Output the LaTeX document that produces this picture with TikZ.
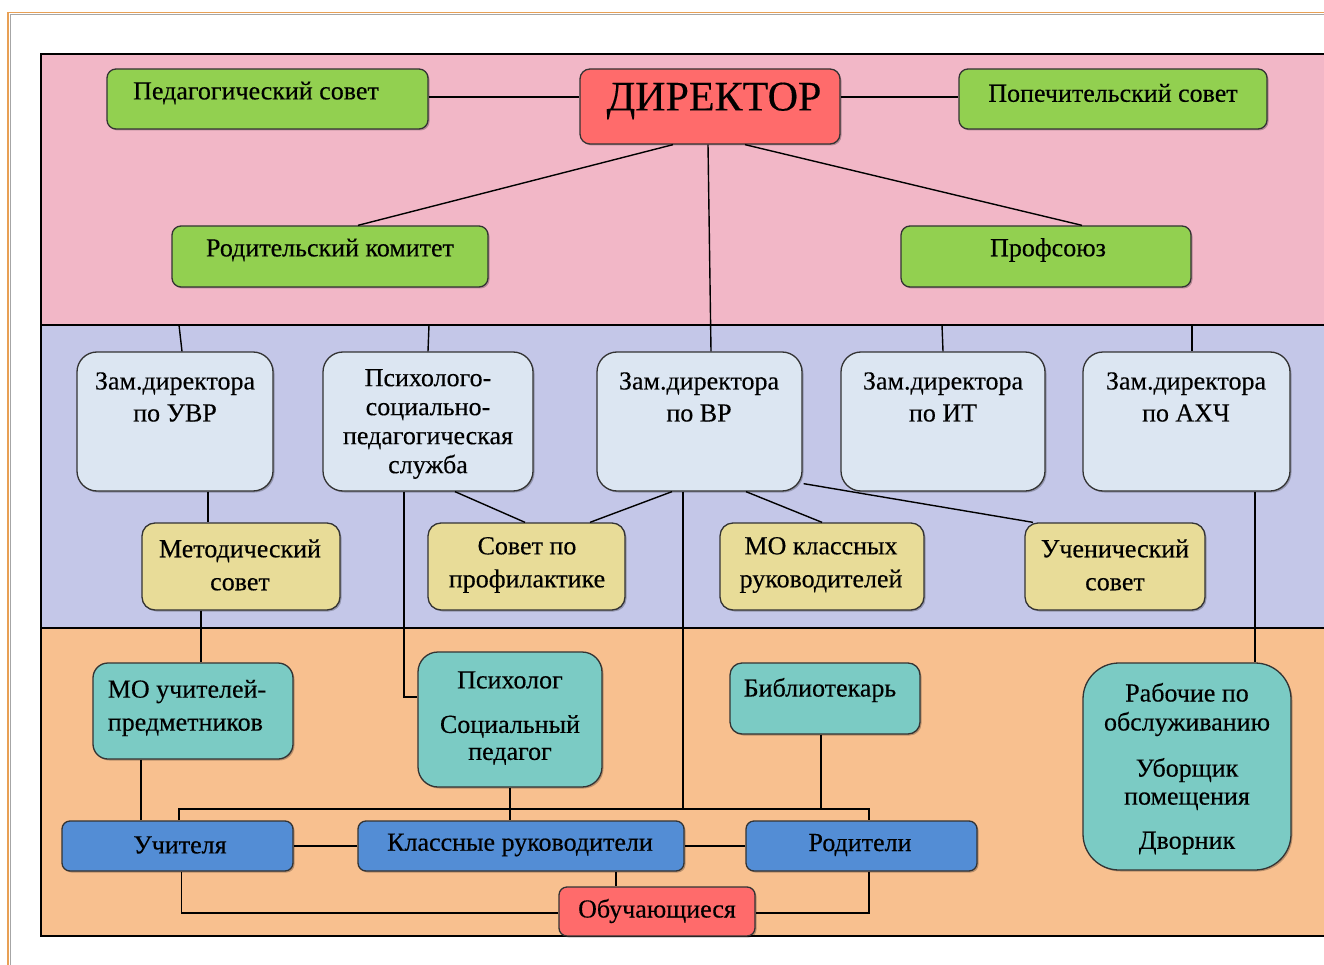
\documentclass[tikz,border=0pt]{standalone}
\usepackage{fontspec}
\setmainfont[FakeBold=0.3]{Liberation Serif}
\usetikzlibrary{shadows,calc}
\definecolor{bandpink}{HTML}{F2B7C7}
\definecolor{bandlav}{HTML}{C4C7E8}
\definecolor{bandpeach}{HTML}{F8C08F}
\definecolor{cgreen}{HTML}{92D050}
\definecolor{cred}{HTML}{FF6B6B}
\definecolor{clblue}{HTML}{DCE6F2}
\definecolor{cyellow}{HTML}{E8DC98}
\definecolor{cteal}{HTML}{7BCBC4}
\definecolor{cblue}{HTML}{538DD5}
\definecolor{cframe}{HTML}{E8A055}
\begin{document}
\begin{tikzpicture}[x=1pt,y=-1pt,
  box/.style={draw=black!80,line width=1.3pt,inner sep=0pt,
    drop shadow={shadow xshift=1.5pt,shadow yshift=-1.5pt,fill=black,opacity=0.25}},
  sz/.style 2 args={minimum width=#1pt,minimum height=#2pt},
  txt/.style={font=\fontsize{26}{32}\selectfont,align=center,inner sep=0pt},
  link/.style={draw=black,line width=1.4pt},
  band/.style={draw=black,line width=1.5pt}]
\useasboundingbox (0,0) rectangle (1324,965);
\clip (0,0) rectangle (1324,965);
\fill[white] (0,0) rectangle (1324,965);
% page frame
\draw[cframe,line width=1.5pt] (8,965) -- (8,12.5) -- (1330,12.5);
\draw[black!35,line width=0.8pt] (10,965) -- (10,14.5) -- (1330,14.5);
% bands
\draw[band,fill=bandpink] (41,54) rectangle (1340,325);
\draw[band,fill=bandlav] (41,325) rectangle (1340,628);
\draw[band,fill=bandpeach] (41,628) rectangle (1340,936);
\coordinate (busy) at (0,809);
\coordinate (e1) at (179,325);
\coordinate (e2) at (429,325);
\coordinate (e3) at (942,325);
\coordinate (e4) at (1192,325);

% ---- top band
\node[box,fill=cgreen,sz={321}{60},rounded corners=9pt] (ped) at (267.5,99) {};
\node[box,fill=cred,sz={260}{75},rounded corners=10pt] (dir) at (710,106.5) {};
\node[box,fill=cgreen,sz={308}{60},rounded corners=9pt] (pop) at (1113,99) {};
\node[box,fill=cgreen,sz={316}{61},rounded corners=9pt] (rod) at (330,256.5) {};
\node[box,fill=cgreen,sz={290}{61},rounded corners=9pt] (prof) at (1046,256.5) {};
\node[txt] (tped) at (256,93) {Педагогический совет};
\node[txt,font=\fontsize{42}{48}\selectfont] (tdir) at (714,101) {ДИРЕКТОР};
\node[txt] (tpop) at (1113,93) {Попечительский совет};
\node[txt] (trod) at (330,250) {Родительский комитет};
\node[txt] (tprof) at (1048,250) {Профсоюз};

% ---- middle band
\node[box,fill=clblue,sz={196}{139},rounded corners=20pt] (uvr) at (175,421.5) {};
\node[box,fill=clblue,sz={210}{139},rounded corners=20pt] (psy) at (428,421.5) {};
\node[box,fill=clblue,sz={205}{139},rounded corners=20pt] (vr) at (699.5,421.5) {};
\node[box,fill=clblue,sz={204}{139},rounded corners=20pt] (it) at (943,421.5) {};
\node[box,fill=clblue,sz={207}{139},rounded corners=20pt] (ahch) at (1186.5,421.5) {};
\node[txt] (tuvr) at (175,397) {Зам.директора\\по УВР};
\node[txt,font=\fontsize{26}{29}\selectfont] (tpsy) at (428,424) {Психолого-\\социально-\\педагогическая\\служба};
\node[txt] (tvr) at (699,397) {Зам.директора\\по ВР};
\node[txt] (tit) at (943,397) {Зам.директора\\по ИТ};
\node[txt] (tahch) at (1186,397) {Зам.директора\\по АХЧ};

\node[box,fill=cyellow,sz={198}{87},rounded corners=13pt] (met) at (241,566.5) {};
\node[box,fill=cyellow,sz={197}{87},rounded corners=13pt] (sov) at (526.5,566.5) {};
\node[box,fill=cyellow,sz={204}{87},rounded corners=13pt] (mok) at (822,566.5) {};
\node[box,fill=cyellow,sz={180}{87},rounded corners=13pt] (uch) at (1115,566.5) {};
\node[txt,font=\fontsize{26}{33}\selectfont] (tmet) at (240,565) {Методический\\совет};
\node[txt,font=\fontsize{26}{33}\selectfont] (tsov) at (527,565) {Совет по\\профилактике};
\node[txt,font=\fontsize{26}{33}\selectfont] (tmok) at (821,565) {МО классных\\руководителей};
\node[txt,font=\fontsize{26}{33}\selectfont] (tuch) at (1115,565) {Ученический\\совет};

% ---- bottom band
\node[box,fill=cteal,sz={200}{96},rounded corners=15pt] (mou) at (193,711) {};
\node[box,fill=cteal,sz={184}{135},rounded corners=20pt] (psyh) at (510,719.5) {};
\node[box,fill=cteal,sz={190}{71},rounded corners=12pt] (bib) at (825,698.5) {};
\node[box,fill=cteal,sz={208}{207},rounded corners=36pt] (rab) at (1187,766.5) {};
\node[txt,align=left,font=\fontsize{26}{33}\selectfont] (tmou) at (187,708) {МО учителей-\\предметников};
\node[txt] (tpsyh1) at (510,680) {Психолог};
\node[txt,font=\fontsize{26}{27}\selectfont] (tpsyh2) at (510,740) {Социальный\\педагог};
\node[txt] (tbib) at (820,690) {Библиотекарь};
\node[txt,font=\fontsize{26}{29}\selectfont] (trab1) at (1187,709.5) {Рабочие по\\обслуживанию};
\node[txt,font=\fontsize{26}{28}\selectfont] (trab2) at (1187,784) {Уборщик\\помещения};
\node[txt] (trab3) at (1187,843) {Дворник};

\node[box,fill=cblue,sz={231}{50},rounded corners=8pt] (ucht) at (177.5,846) {};
\node[box,fill=cblue,sz={326}{50},rounded corners=8pt] (klr) at (521,846) {};
\node[box,fill=cblue,sz={231}{50},rounded corners=8pt] (rodit) at (861.5,846) {};
\node[box,fill=cred,sz={196}{49},rounded corners=8pt] (obuch) at (657,911.5) {};
\node[txt] (tucht) at (180,845) {Учителя};
\node[txt] (tklr) at (520,845) {Классные руководители};
\node[txt] (trodit) at (860,845) {Родители};
\node[txt] (tobuch) at (657,911) {Обучающиеся};

% ---- connectors
\path[link] ([yshift=2pt]ped.east) -- ([yshift=2pt]ped.east -| dir.west);
\path[link] ([yshift=2pt]dir.east |- pop.west) -- ([yshift=2pt]pop.west);
\path[link] ([xshift=-37pt]dir.south) -- ([xshift=28pt]rod.north);
\path[link] ([xshift=35pt]dir.south) -- ([xshift=36pt]prof.north);
\path[link] ([xshift=-2pt]dir.south) -- ([xshift=11.5pt]vr.north);
\path[link] (e1) -- ([xshift=7pt]uvr.north);
\path[link] (e2) -- (psy.north);
\path[link] (e3) -- (it.north);
\path[link] (e4) -- ([xshift=5.5pt]ahch.north);
\path[link] ([xshift=33pt]uvr.south) -- ([xshift=-33pt]met.north);
\path[link] ([xshift=27pt]psy.south) -- ([xshift=-1.5pt]sov.north);
\path[link] ([xshift=-27.5pt]vr.south) -- ([xshift=63.5pt]sov.north);
\path[link] ([xshift=46.5pt]vr.south) -- (mok.north);
\path[link] ([xshift=1pt,yshift=8pt]vr.south east) -- ([xshift=-82pt]uch.north);
\path[link] ([xshift=-16.5pt]vr.south) -- ([xshift=-16.5pt]vr.south |- busy);
\path[link] ([xshift=-4pt]bib.south) -- ([xshift=-4pt]bib.south |- busy);
\path[link] ([xshift=1.5pt]ucht.north) -- ([xshift=1.5pt]ucht.north |- busy) -| ([xshift=7.5pt]rodit.north);
\path[link] (psyh.south) -- (psyh.south |- klr.north);
\path[link] ([xshift=-24pt]psy.south) |- ([yshift=22.5pt]psyh.west);
\path[link] ([xshift=-40pt]met.south) -- ([xshift=8pt]mou.north);
\path[link] ([xshift=68.5pt]ahch.south) -- ([xshift=68pt]rab.north);
\path[link] ([xshift=-52pt]mou.south) -- ([xshift=-36.5pt]ucht.north);
\path[link] (ucht.east) -- (klr.west);
\path[link] (klr.east) -- (rodit.west);
\path[link] ([xshift=4pt]ucht.south) |- ([yshift=-1.5pt]obuch.west);
\path[link] ([xshift=95pt]klr.south) -- ([xshift=-41pt]obuch.north);
\path[link] ([xshift=7.5pt]rodit.south) |- ([yshift=-1.5pt]obuch.east);
\end{tikzpicture}
\end{document}
